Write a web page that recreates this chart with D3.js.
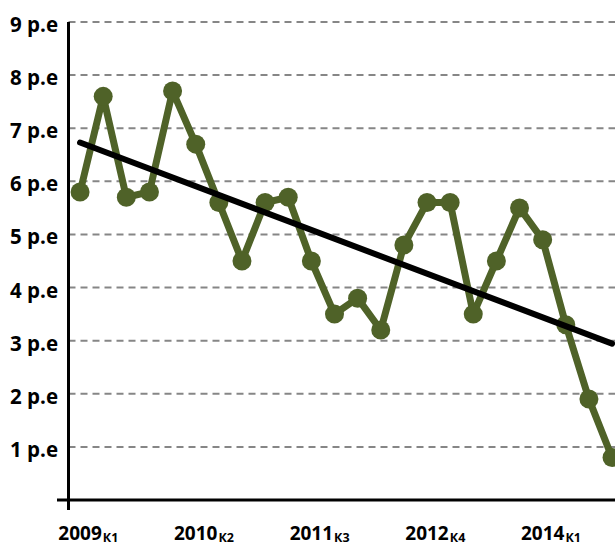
<!DOCTYPE html>
<html>
<head>
<meta charset="utf-8">
<script src="https://cdn.jsdelivr.net/npm/d3@7"></script>
<style>
body{margin:0;background:#fff}
text{font-family:"Open Sans",sans-serif;font-weight:700;fill:#000}
</style>
</head>
<body>
<svg id="chart" width="615" height="546"></svg>
<script>
var values = [5.8,7.6,5.7,5.8,7.7,6.7,5.6,4.5,5.6,5.7,4.5,3.5,3.8,3.2,4.8,5.6,5.6,3.5,4.5,5.5,4.9,3.3,1.9,0.8]
var yTicks = [1,2,3,4,5,6,7,8,9]
var xLabels = [[0,"2009","К1"],[5,"2010","К2"],[10,"2011","К3"],[15,"2012","К4"],[20,"2014","К1"]]

var svg = d3.select("#chart")
var plotLeft = 68.5, plotTop = 22, plotBottom = 500
var step = 23.13

var x = d3.scaleBand().domain(d3.range(values.length)).range([plotLeft,plotLeft+step*values.length])
var y = d3.scaleLinear().domain([0,9]).range([plotBottom,plotTop])
function cx(i){return x(i)+x.bandwidth()/2}

// gridlines
svg.append("g").selectAll("line").data(yTicks).enter().append("line")
	.attr("x1",plotLeft).attr("x2",615)
	.attr("y1",function(d){return y(d)}).attr("y2",function(d){return y(d)})
	.attr("stroke","#868686").attr("stroke-width",2).attr("stroke-dasharray","7,5")

// y labels
svg.append("g").selectAll("text").data(yTicks).enter().append("text")
	.attr("x",58).attr("y",function(d){return y(d)+10})
	.attr("text-anchor","end").attr("font-size",20.5)
	.text(function(d){return d+" p.e"})

// axes
svg.append("line").attr("x1",plotLeft).attr("x2",plotLeft).attr("y1",plotTop).attr("y2",plotBottom+10)
	.attr("stroke","#000").attr("stroke-width",3)
svg.append("line").attr("x1",57).attr("x2",615).attr("y1",plotBottom).attr("y2",plotBottom)
	.attr("stroke","#000").attr("stroke-width",3)

// x labels
xLabels.forEach(function(d){
	var t = svg.append("text").attr("x",cx(d[0])).attr("y",540)
		.attr("text-anchor","middle").attr("font-size",19).text(d[1])
	var w = t.node().getComputedTextLength()
	svg.append("text").attr("x",cx(d[0])+w/2+1).attr("y",542)
		.attr("font-size",12.5).text(d[2])
})

// series
var line = d3.line().x(function(d,i){return cx(i)}).y(function(d){return y(d)})
svg.append("path").datum(values).attr("d",line)
	.attr("fill","none").attr("stroke","#4F6228").attr("stroke-width",7).attr("stroke-linejoin","round")
svg.append("g").selectAll("circle").data(values).enter().append("circle")
	.attr("cx",function(d,i){return cx(i)}).attr("cy",function(d){return y(d)})
	.attr("r",9.5).attr("fill","#4F6228")

// linear trend (least squares)
var n = values.length
var mi = (n-1)/2, mv = d3.mean(values)
var slope = d3.sum(values,function(v,i){return (i-mi)*(v-mv)})/d3.sum(values,function(v,i){return (i-mi)*(i-mi)})
var trend = [[0,mv-slope*mi],[n-1,mv+slope*mi]]
svg.append("line")
	.attr("x1",cx(trend[0][0])).attr("y1",y(trend[0][1]))
	.attr("x2",cx(trend[1][0])).attr("y2",y(trend[1][1]))
	.attr("stroke","#000").attr("stroke-width",6).attr("stroke-linecap","round")
</script>
</body>
</html>
